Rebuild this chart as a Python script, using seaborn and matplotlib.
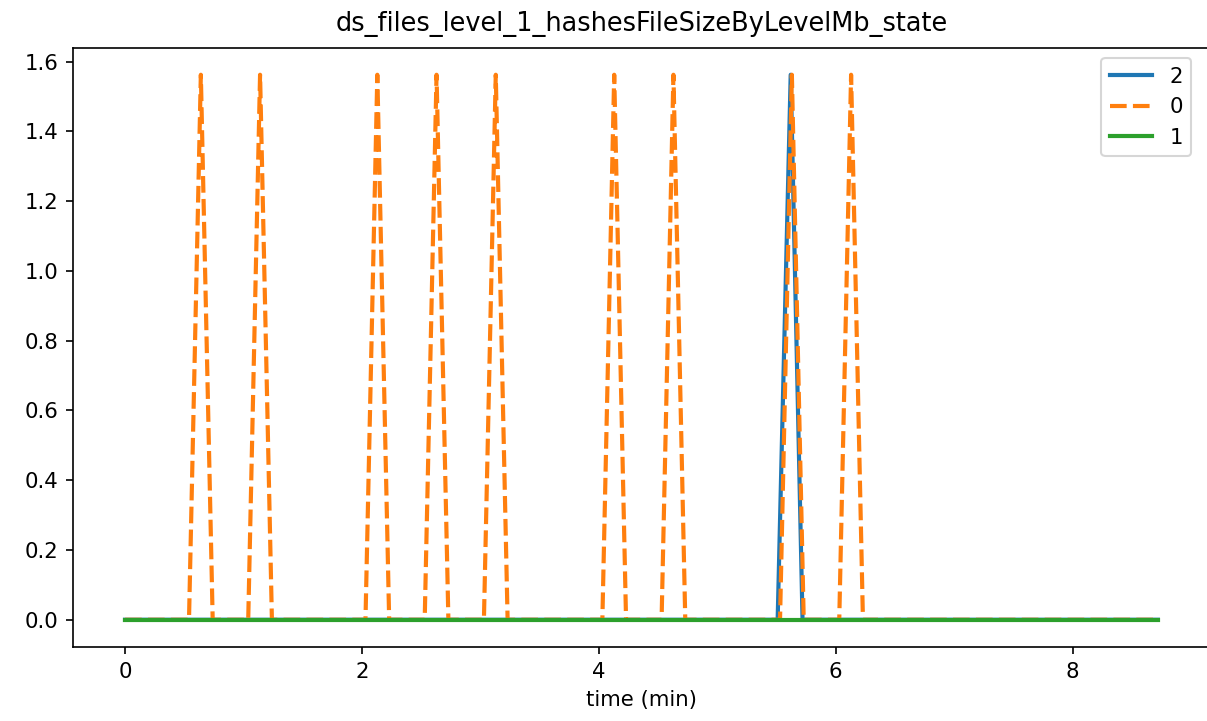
import matplotlib
matplotlib.use("Agg")
import matplotlib.pyplot as plt
import seaborn as sns
import pandas as pd

# Series "2" (blue, solid)
time_2 = [0.0, 5.51, 5.62, 5.72, 8.72]
vals_2 = [0.0, 0.0, 1.5625, 0.0, 0.0]

# Series "0" (orange, dashed)
time_0 = [0.0,
          0.54, 0.64, 0.74,
          1.04, 1.14, 1.24,
          2.03, 2.13, 2.23,
          2.53, 2.63, 2.73,
          3.03, 3.13, 3.23,
          4.03, 4.13, 4.23,
          4.53, 4.63, 4.73,
          5.53, 5.63, 5.73,
          6.03, 6.13, 6.23,
          8.72]
vals_0 = [0.0,
          0.0, 1.5625, 0.0,
          0.0, 1.5625, 0.0,
          0.0, 1.5625, 0.0,
          0.0, 1.5625, 0.0,
          0.0, 1.5625, 0.0,
          0.0, 1.5625, 0.0,
          0.0, 1.5625, 0.0,
          0.0, 1.5625, 0.0,
          0.0, 1.5625, 0.0,
          0.0]

# Series "1" (green, solid)
time_1 = [0.0, 8.72]
vals_1 = [0.0, 0.0]

states = ["2", "0", "1"]
colors = ["#1f77b4", "#ff7f0e", "#2ca02c"]
dash_styles = ["", (4, 1.5), ""]

frames = []
for s, t, v in zip(states, [time_2, time_0, time_1], [vals_2, vals_0, vals_1]):
    frames.append(pd.DataFrame({"time (min)": t, "value": v, "state": s}))
df = pd.concat(frames, ignore_index=True)

plt.rcParams["font.size"] = 10.2

fig, ax = plt.subplots(figsize=(1207 / 150, 721 / 150), dpi=150)
fig.subplots_adjust(left=73.4 / 1207, right=1209.5 / 1207, top=1 - 47.5 / 721, bottom=1 - 647 / 721)

sns.lineplot(data=df, x="time (min)", y="value", hue="state", style="state",
             hue_order=states, style_order=states,
             palette=dict(zip(states, colors)),
             dashes=dict(zip(states, dash_styles)),
             linewidth=2, ax=ax, estimator=None, sort=False)

ax.set_title("ds_files_level_1_hashesFileSizeByLevelMb_state", fontsize=12.3, pad=8)
ax.set_ylabel("")
ax.set_xlabel("time (min)")
ax.legend(title=None, loc="upper right", bbox_to_anchor=(0.9935, 1.0))

fig.savefig("out.png", dpi=150)
